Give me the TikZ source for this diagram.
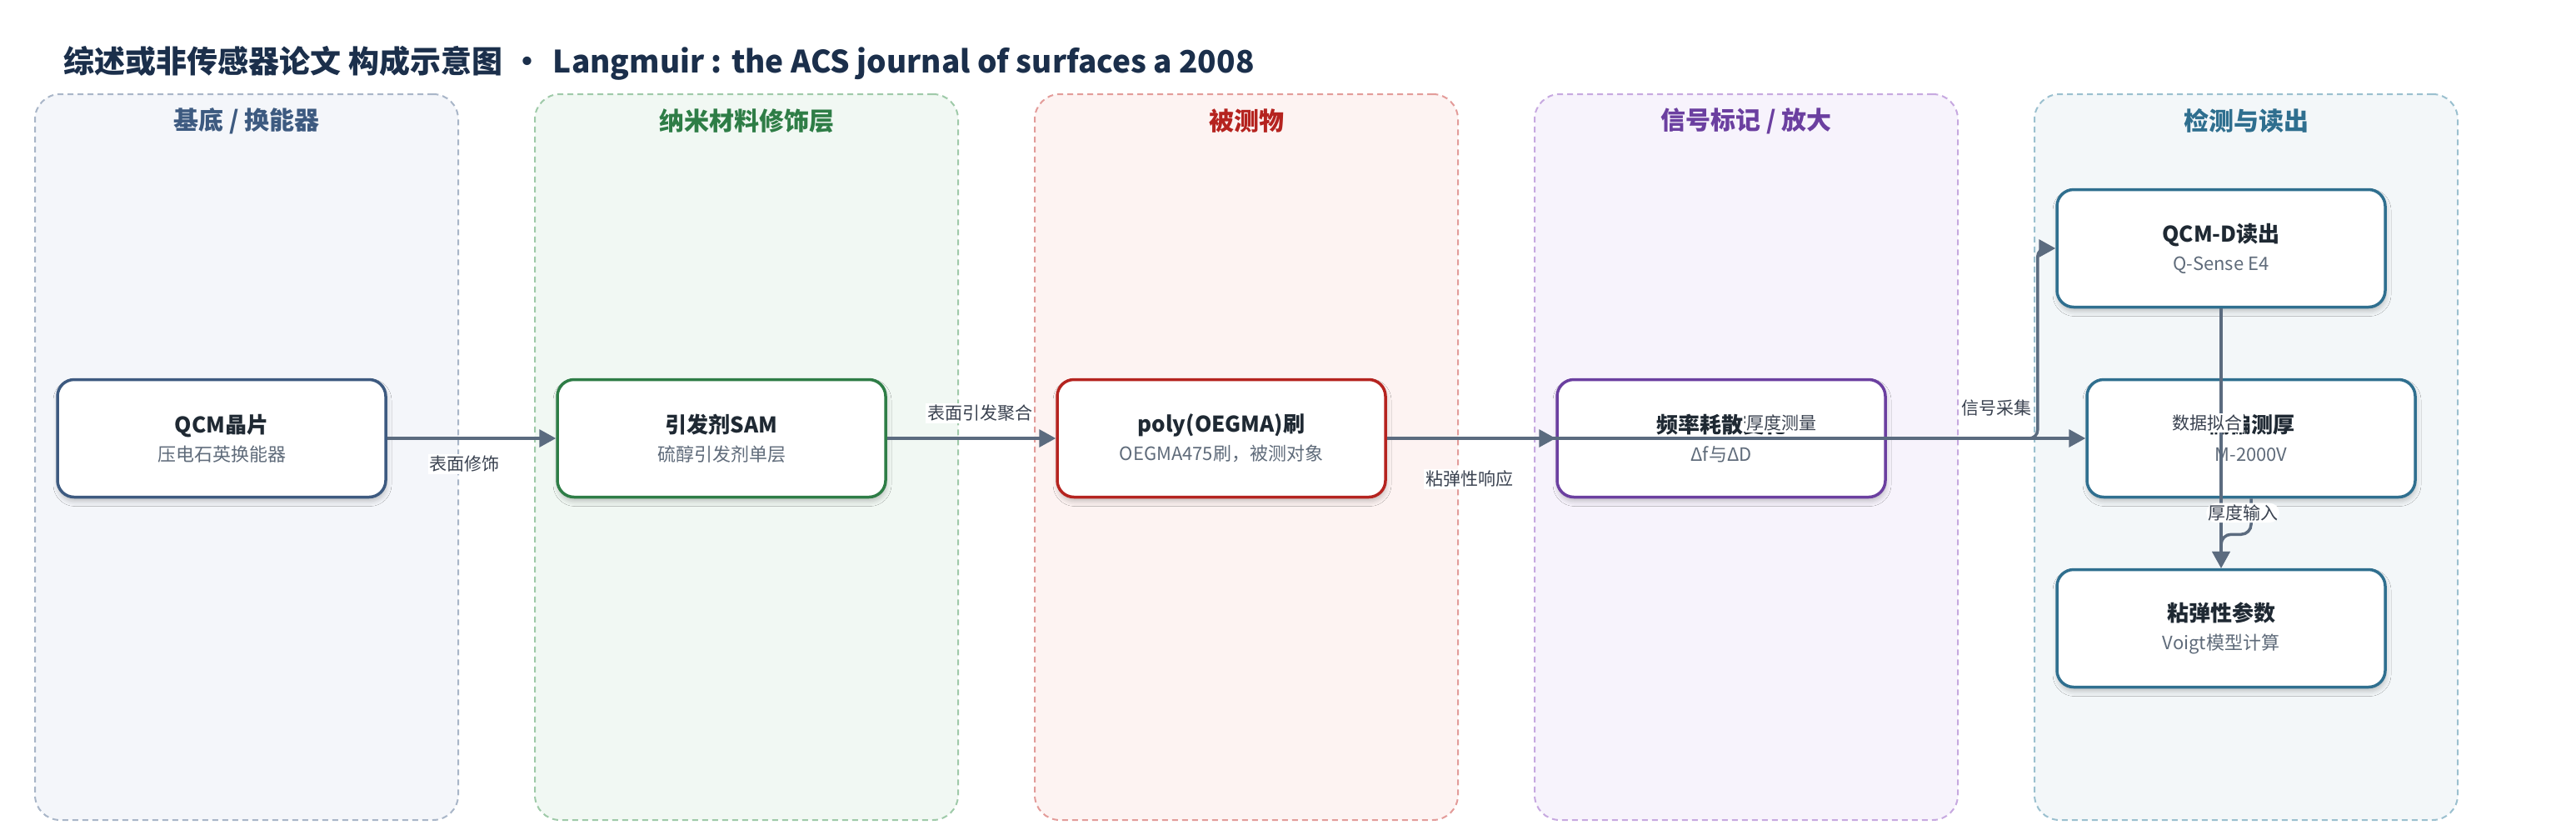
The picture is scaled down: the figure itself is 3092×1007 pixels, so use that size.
\documentclass[tikz,border=0pt]{standalone}
\usepackage{fontspec}
\setmainfont{Noto Sans CJK SC}
\setsansfont{Noto Sans CJK SC}
\usepackage{tikz}
\usetikzlibrary{arrows.meta,shadows.blur}

\definecolor{titlec}{HTML}{1B2F4B}
\definecolor{ink}{HTML}{1F2933}
\definecolor{subc}{HTML}{5F6B7A}
\definecolor{edgec}{HTML}{5B6B7F}
\definecolor{lblc}{HTML}{3A4250}
\definecolor{laneA}{HTML}{3D5A80}
\definecolor{laneAd}{HTML}{A9B6C8}
\definecolor{laneAf}{HTML}{F4F6FA}
\definecolor{laneB}{HTML}{2E7D46}
\definecolor{laneBd}{HTML}{9FCAA9}
\definecolor{laneBf}{HTML}{F1F8F3}
\definecolor{laneC}{HTML}{B5231F}
\definecolor{laneCd}{HTML}{E39C9A}
\definecolor{laneCf}{HTML}{FDF3F2}
\definecolor{laneD}{HTML}{6B3FA0}
\definecolor{laneDd}{HTML}{C7A9E0}
\definecolor{laneDf}{HTML}{F7F3FC}
\definecolor{laneE}{HTML}{2F6F8F}
\definecolor{laneEd}{HTML}{9BC0CF}
\definecolor{laneEf}{HTML}{F3F7F9}

\newcommand\subtxt[1]{{\fontsize{22}{28}\selectfont\mdseries\color{subc}#1}}

\tikzset{
  lane/.style={rounded corners=30pt, line width=2pt, dash pattern=on 7pt off 5pt,
    minimum width=508pt, minimum height=871pt},
  head/.style={font=\fontsize{30}{36}\selectfont\bfseries},
  blk/.style={draw=#1, fill=white, line width=3.5pt, rounded corners=20pt,
    minimum width=394pt, minimum height=141pt, align=center, text=ink,
    font=\fontsize{26}{34}\selectfont,
    blur shadow={shadow xshift=1pt, shadow yshift=-5pt, shadow blur radius=6pt, shadow opacity=22}},
  flow/.style={draw=edgec, line width=3.5pt, -{Triangle[length=20pt,width=21pt]}},
  lbl/.style={fill=white, text=lblc, inner sep=2pt, font=\fontsize{21}{24}\selectfont}
}

\begin{document}
\begin{tikzpicture}[x=1pt,y=-1pt]
  \useasboundingbox (0,0) rectangle (3092,1007);

  % lanes
  \node[lane, draw=laneAd, fill=laneAf] (lane1) at (296,548.5) {};
  \node[lane, draw=laneBd, fill=laneBf] (lane2) at (896,548.5) {};
  \node[lane, draw=laneCd, fill=laneCf] (lane3) at (1496,548.5) {};
  \node[lane, draw=laneDd, fill=laneDf] (lane4) at (2096,548.5) {};
  \node[lane, draw=laneEd, fill=laneEf] (lane5) at (2696,548.5) {};
  \node[head, text=laneA] (head1) at (296,145) {基底 / 换能器};
  \node[head, text=laneB] (head2) at (896,145) {纳米材料修饰层};
  \node[head, text=laneC] (head3) at (1496,145) {被测物};
  \node[head, text=laneD] (head4) at (2096,145) {信号标记 / 放大};
  \node[head, text=laneE] (head5) at (2696,145) {检测与读出};

  \node[anchor=west, text=titlec, font=\fontsize{37}{44}\selectfont\bfseries] (title) at (73,76)
    {综述或非传感器论文 构成示意图\hspace{12pt}•\hspace{12pt}Langmuir : the ACS journal of surfaces a 2008};

  % blocks
  \node[blk=laneA] (qcm)   at (266,526)  {\textbf{QCM晶片}\\\subtxt{压电石英换能器}};
  \node[blk=laneB] (sam)   at (866,526)  {\textbf{引发剂SAM}\\\subtxt{硫醇引发剂单层}};
  \node[blk=laneC] (brush) at (1466,526) {\textbf{poly(OEGMA)刷}\\\subtxt{OEGMA475刷，被测对象}};
  \node[blk=laneD] (shift) at (2066,526) {\textbf{频率耗散变化}\\\subtxt{Δf与ΔD}};
  \node[blk=laneE] (qcmd)  at (2666,298) {\textbf{QCM-D读出}\\\subtxt{Q-Sense E4}};
  \node[blk=laneE] (ellip) at (2702,526) {\textbf{椭偏测厚}\\\subtxt{M-2000V}};
  \node[blk=laneE] (visco) at (2666,754) {\textbf{粘弹性参数}\\\subtxt{Voigt模型计算}};

  % connectors
  \draw[flow] (qcm) -- node[lbl, pos=0.46, yshift=-31pt] {表面修饰} (sam);
  \draw[flow] (sam) -- node[lbl, pos=0.55, yshift=30pt] {表面引发聚合} (brush);
  \draw[flow] (brush) -- node[lbl, pos=0.49, yshift=-49pt] {粘弹性响应} (shift);
  \draw[flow, rounded corners=10pt] (shift.east) -- node[lbl, pos=0.73, yshift=36pt] {信号采集} ++(181,0) |- (qcmd.west);
  \draw[flow] (brush.east) -- node[lbl, pos=0.565, yshift=19pt] {厚度测量} (ellip.west);
  \draw[flow] (qcmd) -- node[lbl, pos=0.44, xshift=-17pt] {数据拟合} (visco);
  \draw[flow, rounded corners=12pt] (ellip.south) -- node[lbl, pos=0.4, xshift=-10pt] {厚度输入} ++(0,43) -| (visco.north);
\end{tikzpicture}
\end{document}
